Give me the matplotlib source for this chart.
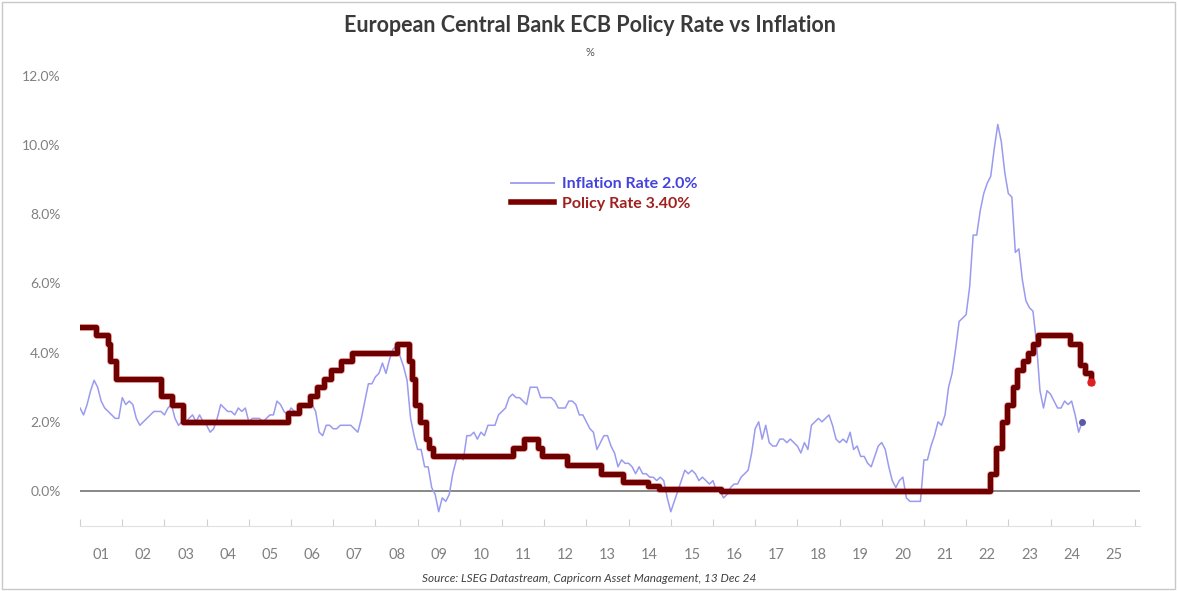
import numpy as np
import matplotlib
matplotlib.use("Agg")
import matplotlib.pyplot as plt
from matplotlib.patches import Rectangle

plt.rcParams["font.family"] = ["Lato", "DejaVu Sans"]

## euro area inflation, monthly from Jan 2001, % y/y
infl_2001 = [2.4, 2.2, 2.5, 2.9, 3.2, 3.0, 2.6, 2.4, 2.3, 2.2, 2.1, 2.1]
infl_2002 = [2.7, 2.5, 2.6, 2.5, 2.1, 1.9, 2.0, 2.1, 2.2, 2.3, 2.3, 2.3]
infl_2003 = [2.2, 2.4, 2.5, 2.1, 1.9, 2.0, 2.0, 2.1, 2.2, 2.0, 2.2, 2.0]
infl_2004 = [1.9, 1.7, 1.8, 2.1, 2.5, 2.4, 2.3, 2.3, 2.2, 2.4, 2.3, 2.4]
infl_2005 = [2.0, 2.1, 2.1, 2.1, 2.0, 2.1, 2.2, 2.2, 2.6, 2.5, 2.3, 2.2]
infl_2006 = [2.4, 2.3, 2.2, 2.5, 2.5, 2.5, 2.5, 2.3, 1.7, 1.6, 1.9, 1.9]
infl_2007 = [1.8, 1.8, 1.9, 1.9, 1.9, 1.9, 1.8, 1.7, 2.1, 2.6, 3.1, 3.1]
infl_2008 = [3.3, 3.4, 3.7, 3.4, 3.8, 4.1, 4.2, 3.9, 3.6, 3.2, 2.1, 1.6]
infl_2009 = [1.2, 1.2, 0.7, 0.7, 0.1, -0.1, -0.6, -0.2, -0.3, -0.1, 0.5, 0.9]
infl_2010 = [1.0, 0.9, 1.6, 1.6, 1.7, 1.5, 1.7, 1.6, 1.9, 1.9, 1.9, 2.2]
infl_2011 = [2.3, 2.4, 2.7, 2.8, 2.7, 2.7, 2.6, 2.5, 3.0, 3.0, 3.0, 2.7]
infl_2012 = [2.7, 2.7, 2.7, 2.6, 2.4, 2.4, 2.4, 2.6, 2.6, 2.5, 2.2, 2.2]
infl_2013 = [2.0, 1.8, 1.7, 1.2, 1.4, 1.6, 1.6, 1.3, 1.1, 0.7, 0.9, 0.8]
infl_2014 = [0.8, 0.7, 0.5, 0.7, 0.5, 0.5, 0.4, 0.4, 0.3, 0.4, 0.3, -0.2]
infl_2015 = [-0.6, -0.3, 0.0, 0.3, 0.6, 0.5, 0.6, 0.5, 0.3, 0.4, 0.3, 0.2]
infl_2016 = [0.3, 0.0, 0.0, -0.2, -0.1, 0.1, 0.2, 0.2, 0.4, 0.5, 0.6, 1.1]
infl_2017 = [1.8, 2.0, 1.5, 1.9, 1.4, 1.3, 1.3, 1.5, 1.5, 1.4, 1.5, 1.4]
infl_2018 = [1.3, 1.1, 1.4, 1.2, 1.9, 2.0, 2.1, 2.0, 2.1, 2.2, 1.9, 1.5]
infl_2019 = [1.4, 1.5, 1.4, 1.7, 1.2, 1.3, 1.0, 1.0, 0.8, 0.7, 1.0, 1.3]
infl_2020 = [1.4, 1.2, 0.7, 0.3, 0.1, 0.3, 0.4, -0.2, -0.3, -0.3, -0.3, -0.3]
infl_2021 = [0.9, 0.9, 1.3, 1.6, 2.0, 1.9, 2.2, 3.0, 3.4, 4.1, 4.9, 5.0]
infl_2022 = [5.1, 5.9, 7.4, 7.4, 8.1, 8.6, 8.9, 9.1, 9.9, 10.6, 10.1, 9.2]
infl_2023 = [8.6, 8.5, 6.9, 7.0, 6.1, 5.5, 5.3, 5.2, 4.3, 2.9, 2.4, 2.9]
infl_2024 = [2.8, 2.6, 2.4, 2.4, 2.6, 2.5, 2.6, 2.2, 1.7, 2.0]

## ECB main refi rate: date of change (decimal year) and new level
policy_dates = [2001.0, 2001.37, 2001.66, 2001.71, 2001.86, 2002.93, 2003.19, 2003.43,
                2005.92, 2006.18, 2006.46, 2006.61, 2006.78, 2006.95, 2007.19, 2007.45,
                2008.52, 2008.79, 2008.86, 2008.94, 2009.05, 2009.19, 2009.27, 2009.36,
                2011.27, 2011.53, 2011.85, 2011.95, 2012.53, 2013.35, 2013.86, 2014.45,
                2014.71, 2016.19, 2022.57, 2022.71, 2022.84, 2022.96, 2023.10, 2023.21,
                2023.35, 2023.46, 2023.59, 2023.71, 2024.46, 2024.71, 2024.81, 2024.97]
policy_rates = [4.75, 4.50, 4.25, 3.75, 3.25, 2.75, 2.50, 2.00,
                2.25, 2.50, 2.75, 3.00, 3.25, 3.50, 3.75, 4.00,
                4.25, 3.75, 3.25, 2.50, 2.00, 1.50, 1.25, 1.00,
                1.25, 1.50, 1.25, 1.00, 0.75, 0.50, 0.25, 0.15,
                0.05, 0.00, 0.50, 1.25, 2.00, 2.50, 3.00, 3.50,
                3.75, 4.00, 4.25, 4.50, 4.25, 3.65, 3.40, 3.15]

year_labels = ["01", "02", "03", "04", "05", "06", "07", "08", "09", "10", "11", "12", "13",
               "14", "15", "16", "17", "18", "19", "20", "21", "22", "23", "24", "25"]
y_ticks = [0, 2, 4, 6, 8, 10, 12]

inflation = np.array(infl_2001 + infl_2002 + infl_2003 + infl_2004 + infl_2005 + infl_2006
                     + infl_2007 + infl_2008 + infl_2009 + infl_2010 + infl_2011 + infl_2012
                     + infl_2013 + infl_2014 + infl_2015 + infl_2016 + infl_2017 + infl_2018
                     + infl_2019 + infl_2020 + infl_2021 + infl_2022 + infl_2023 + infl_2024)
infl_x = 2001 + np.arange(len(inflation)) / 12.0

##
fig = plt.figure(figsize=(11.79, 5.91), dpi=100)
ax = fig.add_axes([0.0679, 0.1107, 0.899, 0.7607])

ax.axhline(0, color="#7f7f7f", lw=1.3, zorder=1)

ax.plot(infl_x, inflation, color="#9a9af0", lw=1.1, zorder=2)
ax.plot(infl_x[-1], inflation[-1], "o", color="#5a5aa8", ms=4, zorder=3)

# faint red halo + dark core for the policy rate
ax.step(policy_dates, policy_rates, where="post", color="#d01010", lw=5.0, alpha=0.35,
        solid_joinstyle="round", zorder=4)
ax.step(policy_dates, policy_rates, where="post", color="#6e0000", lw=3.8,
        solid_joinstyle="round", zorder=5)
ax.plot(policy_dates[-1], policy_rates[-1], "o", color="#e02020", ms=5, zorder=6)

ax.set_xlim(2001, 2026.12)
ax.set_ylim(-1, 12)

ax.set_yticks(y_ticks)
ax.set_yticklabels([f"{v:.1f}%" for v in y_ticks])
ax.tick_params(axis="y", length=0, pad=14, labelsize=10, labelcolor="#808080")

ax.set_xticks(np.arange(2001, 2027))
ax.set_xticklabels([])
ax.set_xticks(np.arange(2001, 2026) + 0.5, minor=True)
ax.set_xticklabels(year_labels, minor=True)
ax.tick_params(axis="x", which="major", direction="in", length=5, color="#d0d0d0")
ax.tick_params(axis="x", which="minor", length=0, pad=16, labelsize=10.5, labelcolor="#808080")

for s in ["left", "right", "top"]:
    ax.spines[s].set_visible(False)
ax.spines["bottom"].set_color("#e0e0e0")

fig.text(0.5, 1 - 25 / 591, "European Central Bank ECB Policy Rate vs Inflation",
         ha="center", va="center", fontsize=15.5, fontweight="bold", color="#3a3a3a")
fig.text(0.5, 1 - 52 / 591, "%", ha="center", va="center", fontsize=8, color="#555555")
fig.text(0.5, 1 - 578 / 591, "Source: LSEG Datastream, Capricorn Asset Management, 13 Dec 24",
         ha="center", va="center", fontsize=8.5, style="italic", color="#404040")

h1, = ax.plot([], [], color="#9a9af0", lw=1.3)
h2, = ax.plot([], [], color="#7a0000", lw=4)
fig.legend([h1, h2], ["Inflation Rate 2.0%", "Policy Rate 3.40%"],
           loc="upper left", bbox_to_anchor=(503 / 1179, 1 - 169 / 591),
           frameon=False, borderpad=0, handlelength=2.7, handletextpad=0.5,
           labelspacing=0.35, prop={"size": 11.5, "weight": "bold"},
           labelcolor=["#4444dd", "#a02020"])

fig.add_artist(Rectangle((0.002, 0.004), 0.995, 0.993, transform=fig.transFigure,
                         fill=False, edgecolor="#c8c8c8", lw=1))

fig.savefig("out.png", dpi=100)
